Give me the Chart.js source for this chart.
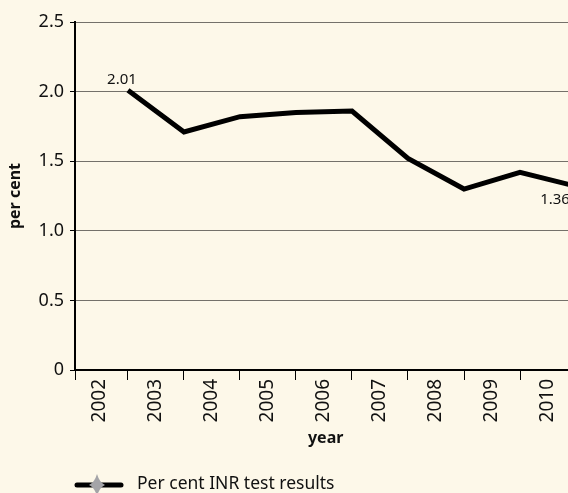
<!DOCTYPE html>
<html>
<head>
<meta charset="utf-8">
<script src="https://cdn.jsdelivr.net/npm/chart.js@4/dist/chart.umd.min.js"></script>
<style>
  html, body { margin: 0; padding: 0; background: #fdf8e9; overflow: hidden; }
  #wrap { width: 568px; height: 493px; position: relative; }
</style>
</head>
<body>
<div id="wrap"><canvas id="inrChart"></canvas></div>
<script>
// values
const years = [2002, 2003, 2004, 2005, 2006, 2007, 2008, 2009, 2010];
const inrPercent = [2.01, 1.71, 1.82, 1.85, 1.86, 1.52, 1.30, 1.42, 1.32];
const pointLabels = ['2.01', '', '', '', '', '', '', '', '1.36'];
const yTicks = [0, 0.5, 1.0, 1.5, 2.0, 2.5];
const seriesName = 'Per cent INR test results';

const FONT = '"Noto Sans", sans-serif';
const INK = '#111';

// each point sits on the tick mark just after its year label
const points = years.map((y, i) => ({ x: y + 0.5, y: inrPercent[i] }));

const labelsPlugin = {
  id: 'pointLabels',
  afterDatasetsDraw(chart) {
    const ctx = chart.ctx;
    const meta = chart.getDatasetMeta(0);
    ctx.save();
    ctx.font = '15px ' + FONT;
    ctx.fillStyle = INK;
    ctx.textAlign = 'center';
    ctx.textBaseline = 'middle';
    pointLabels.forEach((t, i) => {
      if (!t) return;
      const p = meta.data[i];
      const first = i === 0;
      ctx.fillText(t, p.x + (first ? -6 : -21), p.y + (first ? -10 : 13));
    });
    ctx.restore();
  }
};

const legendPlugin = {
  id: 'bottomLegend',
  afterDraw(chart) {
    const ctx = chart.ctx;
    const y = 485;
    ctx.save();
    ctx.strokeStyle = '#000';
    ctx.lineWidth = 5;
    ctx.lineCap = 'round';
    ctx.beginPath();
    ctx.moveTo(77, y);
    ctx.lineTo(121, y);
    ctx.stroke();
    // grey four-point star marker
    const cx = 97;
    ctx.fillStyle = '#a4a4a8';
    ctx.beginPath();
    ctx.moveTo(cx, y - 11);
    ctx.quadraticCurveTo(cx + 2.5, y - 2.5, cx + 8, y);
    ctx.quadraticCurveTo(cx + 2.5, y + 2.5, cx, y + 11);
    ctx.quadraticCurveTo(cx - 2.5, y + 2.5, cx - 8, y);
    ctx.quadraticCurveTo(cx - 2.5, y - 2.5, cx, y - 11);
    ctx.fill();
    ctx.font = '17.5px ' + FONT;
    ctx.fillStyle = INK;
    ctx.textBaseline = 'middle';
    ctx.fillText(chart.data.datasets[0].label, 137, y - 1);
    ctx.restore();
  }
};

new Chart(document.getElementById('inrChart'), {
  type: 'line',
  data: {
    datasets: [{
      label: seriesName,
      data: points,
      borderColor: '#000',
      borderWidth: 5,
      pointRadius: 0,
      tension: 0
    }]
  },
  options: {
    responsive: true,
    maintainAspectRatio: false,
    animation: false,
    layout: { padding: { top: 22, left: 0, right: 0, bottom: 0 } },
    plugins: {
      legend: { display: false },
      tooltip: { enabled: false }
    },
    scales: {
      x: {
        type: 'linear',
        min: 2001.554,
        max: 2010.357,
        afterBuildTicks: s => {
          const vals = [s.min];
          years.forEach(y => { vals.push(y, y + 0.5); });
          s.ticks = vals.filter(v => v <= s.max).map(v => ({ value: v }));
        },
        afterFit: s => { s.height = 123; s.paddingLeft = 0; s.paddingRight = 0; },
        border: { color: '#000', width: 2 },
        grid: {
          drawOnChartArea: false,
          drawTicks: true,
          tickLength: 10,
          tickWidth: 1,
          tickColor: c => Number.isInteger(c.tick.value) ? 'transparent' : '#000'
        },
        ticks: {
          autoSkip: false,
          minRotation: 90,
          maxRotation: 90,
          padding: -1,
          color: INK,
          font: { family: FONT, size: 19 },
          callback: v => Number.isInteger(v) ? String(v) : ''
        },
        title: {
          display: true,
          text: '  year',
          color: INK,
          font: { family: FONT, size: 16, weight: 'bold' },
          padding: { top: 0, bottom: 45 }
        }
      },
      y: {
        min: 0,
        max: 2.5,
        afterBuildTicks: s => { s.ticks = yTicks.map(v => ({ value: v })); },
        afterFit: s => { s.width = 75; s.paddingTop = 0; s.paddingBottom = 0; },
        border: { color: '#000', width: 2 },
        grid: {
          color: c => c.tick && c.tick.value === 0 ? 'transparent' : '#74716a',
          lineWidth: 1,
          drawTicks: true,
          tickLength: 5,
          tickColor: '#000'
        },
        ticks: {
          padding: 6,
          color: INK,
          font: { family: FONT, size: 18 },
          callback: v => v === 0 ? '0' : v.toFixed(1)
        },
        title: {
          display: true,
          text: 'per cent',
          color: INK,
          font: { family: FONT, size: 16, weight: 'bold' },
          padding: { top: 6, bottom: 0 }
        }
      }
    }
  },
  plugins: [labelsPlugin, legendPlugin]
});
</script>
</body>
</html>
